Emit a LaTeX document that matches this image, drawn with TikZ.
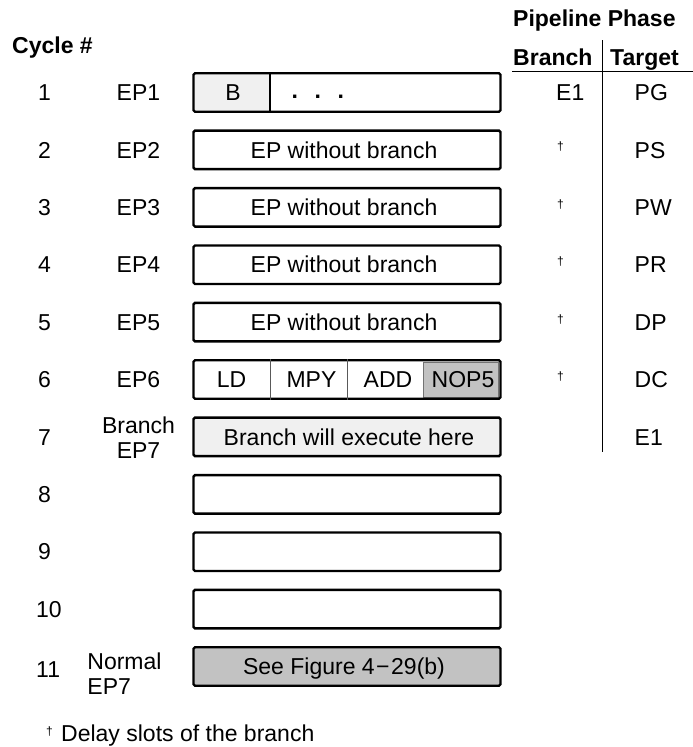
\documentclass[tikz,border=0pt]{standalone}
\usepackage{fontspec}
\setmainfont{Liberation Sans}
\definecolor{lightg}{gray}{0.94}
\definecolor{darkg}{gray}{0.76}
\begin{document}
\begin{tikzpicture}[x=1pt,y=-1pt,
  rowbox/.style={draw, line width=2.4pt, rounded corners=1.5pt, minimum width=307pt, minimum height=38.5pt, inner sep=0pt},
  lbl/.style={font=\fontsize{23}{25}\selectfont, inner sep=0pt, anchor=base},
  lblw/.style={lbl, anchor=base west},
  hdr/.style={font=\bfseries\fontsize{23}{25}\selectfont, inner sep=0pt, anchor=base west},
  dag/.style={font=\fontsize{12}{14}\selectfont, inner sep=0pt, anchor=base west},
  thin/.style={line width=0.8pt}]
\useasboundingbox (0,0) rectangle (693,747);
% headers
\node[hdr] (cyc) at (12,53) {Cycle \#};
\node[hdr] (pp) at (513,26) {Pipeline Phase};
\node[hdr] (hb) at (513,65) {Branch};
\node[hdr] (ht) at (610,65) {Target};
\coordinate (hl1) at (512,71);
\coordinate (hl2) at (693,71);
\draw[thin] (hl1) -- (hl2);
\coordinate (vl1) at (602.5,40);
\coordinate (vl2) at (602.5,452);
\draw[thin] (vl1) -- (vl2);
% row 1
\fill[lightg] (193.5,73.5) rectangle (270,111.5);
\node[rowbox] (r1) at (347,92.5) {};
\coordinate (d1) at (270,0);
\draw[line width=2.4pt] (d1 |- r1.north) -- (d1 |- r1.south);
\node[lbl] (b1) at (233,100.7) {B};
\node[lblw,font=\bfseries\fontsize{23}{25}\selectfont] (dots) at (291.5,98) {.\hspace{16.6pt}.\hspace{16.6pt}.};
% rows 2-5
\foreach \i in {2,3,4,5} {
  \node[rowbox] (r\i) at (347,{92.5+(\i-1)*57.4}) {};
  \node[lbl] (t\i) at (344,{100.7+(\i-1)*57.4}) {EP without branch};
}
% row 6
\fill[darkg] (423,362) rectangle (499.3,398);
\draw[line width=1pt, black!55] (423.8,362.3) rectangle (498.8,397.7);
\node[rowbox] (r6) at (347,379.5) {};
\coordinate (d2) at (270,0);
\coordinate (d3) at (347,0);
\draw[thin, black!65] (d2 |- r6.north) -- (d2 |- r6.south);
\draw[thin, black!65] (d3 |- r6.north) -- (d3 |- r6.south);
\node[lbl] (ld) at (231.5,387.7) {LD};
\node[lbl] (mpy) at (311.5,387.7) {MPY};
\node[lbl] (add) at (388,387.7) {ADD};
\node[lbl] (nop) at (463,387.7) {NOP5};
% row 7
\node[rowbox,fill=lightg] (r7) at (347,436.9) {};
\node[lbl] (t7) at (349,445.1) {Branch will execute here};
% rows 8-11
\node[rowbox] (r8) at (347,494.3) {};
\node[rowbox] (r9) at (347,551.7) {};
\node[rowbox] (r10) at (347,609.1) {};
\node[rowbox,fill=darkg] (r11) at (347,666.5) {};
\node[lbl] (t11) at (344,674.7) {See Figure 4\hspace{1.5pt}−\hspace{1.5pt}29(b)};
% left labels
\foreach \i/\t in {1/EP1,2/EP2,3/EP3,4/EP4,5/EP5,6/EP6} {
  \node[lblw] (c\i) at (38,{100.7+(\i-1)*57.4}) {\i};
  \node[lblw] (e\i) at (116.5,{100.7+(\i-1)*57.4}) {\t};
}
\node[lblw] (c7) at (38,445.1) {7};
\node[lbl,anchor=center,align=center] (e7) at (138.5,437.5) {Branch\\EP7};
\node[lblw] (c8) at (38,502.5) {8};
\node[lblw] (c9) at (38,559.9) {9};
\node[lblw] (c10) at (36,617.3) {10};
\node[lblw] (c11) at (36,677) {11};
\node[lbl,anchor=center,align=left] (e11) at (124.5,674) {Normal\\EP7};
% right column
\node[lblw] (p1b) at (556,100.7) {E1};
\node[lblw] (p1t) at (634.5,100.7) {PG};
\foreach \i/\t in {2/PS,3/PW,4/PR,5/DP,6/DC} {
  \node[dag] (p\i b) at (557,{93.5+(\i-1)*57.4}) {\textdagger};
  \node[lblw] (p\i t) at (634.5,{100.7+(\i-1)*57.4}) {\t};
}
\node[lblw] (p7t) at (634.5,445.1) {E1};
% footnote
\node[dag] (fnd) at (46,735) {\textdagger};
\node[lblw] (fn) at (61,741) {Delay slots of the branch};
\end{tikzpicture}
\end{document}
